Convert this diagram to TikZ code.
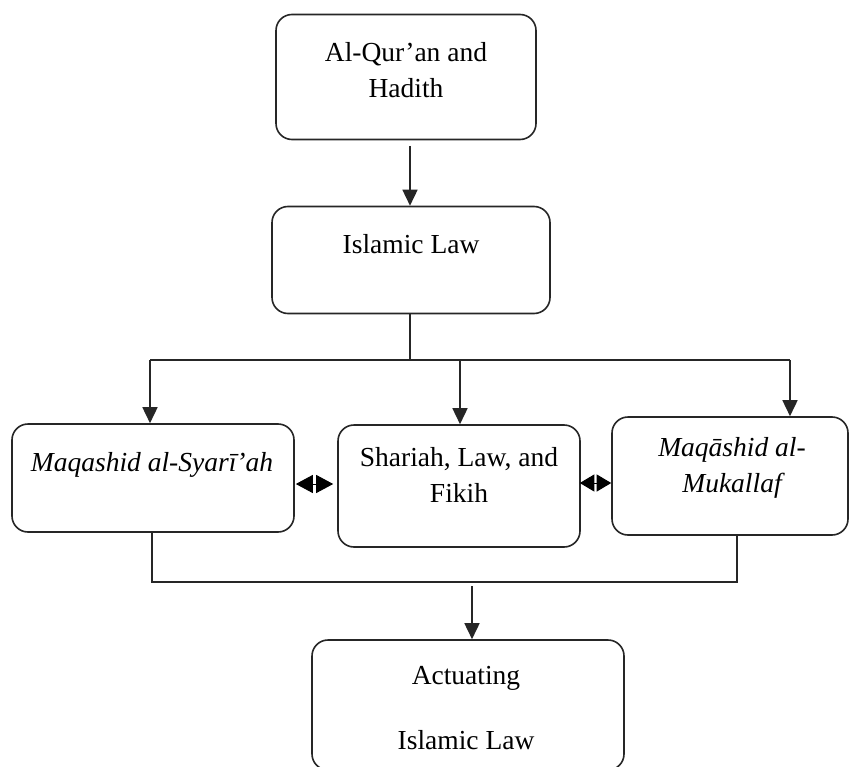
\documentclass[tikz,border=0pt]{standalone}
\usepackage{fontspec}
\setmainfont{Liberation Serif}
\usetikzlibrary{arrows.meta}
\begin{document}
\begin{tikzpicture}[x=1pt,y=-1pt,
  box/.style={draw=black!85,line width=1.6pt,rounded corners=16pt,inner sep=0pt},
  txt/.style={font=\fontsize{27.5}{36}\selectfont,inner sep=0pt,align=center},
  itxt/.style={txt,font=\fontsize{27.5}{36}\selectfont\itshape},
  link/.style={draw=black!85,line width=1.6pt},
  arr/.style={link,-{Triangle[width=15pt,length=16pt]}},
  dbl/.style={draw=black,line width=1pt,{Triangle[width=18pt,length=17pt]}-{Triangle[width=18pt,length=17pt]}},
  dblsmall/.style={draw=black,line width=1pt,{Triangle[width=17pt,length=14.5pt]}-{Triangle[width=17pt,length=14.5pt]}}]
\useasboundingbox (0,0) rectangle (850,767);
\fill[white] (0,0) rectangle (850,767);
% boxes
\node[box,minimum width=260pt,minimum height=125pt] (quran) at (406,77) {};
\node[box,minimum width=278pt,minimum height=107pt] (law) at (411,260) {};
\node[box,minimum width=282pt,minimum height=108pt] (maqs) at (153,478) {};
\node[box,minimum width=242pt,minimum height=122pt] (shar) at (459,486) {};
\node[box,minimum width=236pt,minimum height=118pt] (muk) at (730,476) {};
\node[box,minimum width=312pt,minimum height=130pt] (act) at (468,705) {};
% texts
\node[txt] (tq) at (406,70) {Al-Qur’an and\\Hadith};
\node[txt] (tl) at (411,244) {Islamic Law};
\node[itxt] (tm) at (152,465) {Maqashid al-Syarī’ah};
\node[txt] (ts) at (459,475) {Shariah, Law, and\\Fikih};
\node[itxt] (tk) at (732,468) {Maqāshid al-\\Mukallaf};
\node[txt] (ta) at (466,678) {Actuating};
\node[txt] (ta2) at (466,740) {Islamic Law};
% coordinates
\coordinate (s1) at (410,360);
\coordinate (hl) at (150,360);
\coordinate (hr) at (790,360);
\coordinate (hm) at (460,360);
\coordinate (b1) at (152,582);
\coordinate (b2) at (737,582);
\coordinate (bm) at (472,586);
\coordinate (q1) at (410,146);
\coordinate (d1) at (0,484);
\coordinate (d2) at (0,483);
% connectors
\draw[arr] (q1) -- (law.north -| q1);
\draw[link] (law.south -| s1) -- (s1);
\draw[link] (hl) -- (hr);
\draw[arr] (hl) -- (maqs.north -| hl);
\draw[arr] (hm) -- (shar.north -| hm);
\draw[arr] (hr) -- (muk.north -| hr);
\draw[link] (maqs.south -| b1) -- (b1) -- (b2) -- (muk.south -| b2);
\draw[arr] (bm) -- (act.north -| bm);
\draw[dbl,shorten <=1pt,shorten >=4pt] (maqs.east |- d1) -- (shar.west |- d1);
\draw[dblsmall,shorten <=-1pt,shorten >=0pt] (shar.east |- d2) -- (muk.west |- d2);
\end{tikzpicture}
\end{document}
